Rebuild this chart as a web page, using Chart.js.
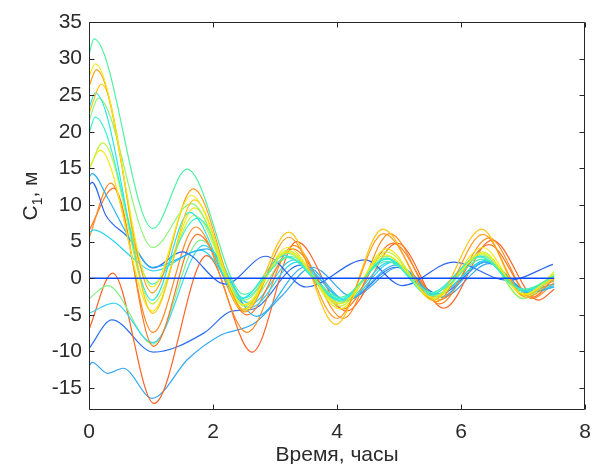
<!DOCTYPE html>
<html>
<head>
<meta charset="utf-8">
<script src="https://cdn.jsdelivr.net/npm/chart.js@4"></script>
<style>
  html, body { margin: 0; padding: 0; background: #fff; }
</style>
</head>
<body>
<canvas id="c" width="601" height="464"></canvas>
<script>
// Tick labels
const xTicks = [0, 2, 4, 6, 8];
const yTicks = [-15, -10, -5, 0, 5, 10, 15, 20, 25, 30, 35];

// Each realisation: [time, hours ; C1, m]
const zeroLine = [[0, 0], [7.5, 0]];
const run01 = [[0,30.5],[0.08,32.7],[1.03,6.8],[1.58,14.9],[2.5,-2.2],[3.2,2.8],[4.05,-2.6],[4.8,2.3],[5.55,-2],[6.35,2.6],[7.0,-1.6],[7.5,0.3]];
const run02 = [[0,27.5],[0.1,29.3],[1.02,-1.2],[1.65,11.3],[2.5,-3.6],[3.2,3.6],[4.05,-3.5],[4.78,3.2],[5.55,-2.6],[6.35,3.4],[7.02,-2.2],[7.5,0.6]];
const run03 = [[0,26.2],[0.12,28.5],[1.02,-2],[1.68,12.2],[2.52,-4.6],[3.22,5.6],[4.0,-5.5],[4.75,6.1],[5.6,-3.2],[6.35,6],[7.05,-2.6],[7.5,-0.2]];
const run04 = [[0,22.5],[0.2,26.5],[1.03,-4.8],[1.7,10.7],[2.5,-4.2],[3.22,6.3],[3.98,-6.3],[4.74,6.7],[5.55,-3],[6.33,6.7],[7.0,-2.4],[7.5,0]];
const run05 = [[0,23.2],[0.1,25.3],[1.02,-3],[1.62,9],[2.45,-2.8],[3.15,3.1],[4.05,-3],[4.8,2.6],[5.5,-2.3],[6.3,3],[7.0,-1.8],[7.5,0.3]];
const run06 = [[0,21.5],[0.15,24.6],[1.03,4.2],[1.65,10.2],[2.5,-3],[3.2,3.4],[4.05,-3.2],[4.8,3],[5.55,-2.4],[6.35,3.2],[7.0,-2.8],[7.5,0.6]];
const run07 = [[0,19.8],[0.1,22],[1.02,-0.8],[1.75,8.2],[2.5,-2.7],[3.2,2.9],[4.05,-2.8],[4.8,2.7],[5.5,-2],[6.3,2.9],[7.0,-1.5],[7.5,-0.4]];
const run08 = [[0,14.8],[0.22,18.5],[1.02,-3.5],[1.7,8.6],[2.5,-3.8],[3.2,3.8],[4.05,-3.8],[4.8,3.6],[5.55,-2.8],[6.35,3.6],[7.0,-2.7],[7.5,0.9]];
const run09 = [[0,15],[0.18,17.5],[1.02,-4.5],[1.7,9.6],[2.5,-4.4],[3.2,4.2],[4.05,-4.2],[4.8,4],[5.55,-3],[6.35,4.2],[7.0,-2.2],[7.5,0.2]];
const run10 = [[0,13.8],[0.05,14.3],[0.3,11],[0.67,5.2],[1.02,1.5],[1.9,4],[2.7,-5.2],[3.5,1.6],[4.15,-3],[4.95,1.8],[5.65,-2.6],[6.4,2.2],[7.1,-2],[7.5,-1.2]];
const run11 = [[0,12.7],[0.05,13.1],[0.27,8.6],[0.63,5.6],[1.03,1.4],[1.5,3.6],[2.2,-0.8],[2.85,3],[3.5,-1.2],[4.45,2.5],[5.05,-1],[5.88,2.2],[6.75,-0.3],[7.48,1.9]];
const run12 = [[0,6.2],[0.08,6.6],[0.35,5.4],[0.7,2.8],[1.03,1],[1.8,3.8],[2.6,-4],[3.35,2.2],[4.15,-3],[4.9,2.2],[5.6,-2.2],[6.4,2.4],[7.1,-2],[7.5,-1]];
const run13 = [[0,5.5],[0.35,13],[1.03,-7.4],[1.72,7],[2.55,-7.4],[3.3,4.5],[4.1,-5.5],[4.85,6.1],[5.65,-3.5],[6.45,5.5],[7.15,-2.8],[7.5,-0.6]];
const run14 = [[0,6.5],[0.4,12.3],[1.04,-9.3],[1.75,6],[2.55,-5],[3.28,4],[4.1,-4.2],[4.9,4.8],[5.65,-3],[6.45,4.6],[7.15,-2.6],[7.5,0]];
const run15 = [[0,-4.8],[0.4,-3.4],[1.03,-8.8],[1.85,4.5],[2.6,-3.5],[3.3,2.5],[4.1,-3.2],[4.85,2.2],[5.6,-2.2],[6.4,2.4],[7.05,-1.8],[7.5,-0.8]];
const run16 = [[0,-2.8],[0.3,-1],[1.03,-9],[1.8,5.2],[2.55,-3.3],[3.25,3],[4.05,-3.4],[4.8,2.8],[5.55,-2.5],[6.35,3],[7.0,-2],[7.5,0.5]];
const run17 = [[0,-7],[0.38,0.7],[1.05,-17.1],[1.9,3.1],[2.63,-10.1],[3.35,5],[4.15,-4.5],[4.97,4.8],[5.72,-4.1],[6.5,5.2],[7.25,-3],[7.5,-1.5]];
const run18 = [[0,-9.6],[0.37,-5.7],[1.04,-10.1],[1.85,-7.5],[2.3,-4.5],[2.65,-4.2],[3.4,1.8],[4.15,-3],[4.95,1.5],[5.65,-2.2],[6.4,2.2],[7.05,-1.6],[7.5,-0.8]];
const run19 = [[0,-12],[0.05,-11.5],[0.3,-13],[0.55,-12.3],[1.02,-16.4],[1.6,-11],[2.12,-7.8],[2.66,-6.2],[3.1,-2.5],[3.6,1.5],[4.25,-2.5],[5.0,1.5],[5.7,-2.6],[6.45,2],[7.1,-1.8],[7.5,-1.2]];

// Series and their jet-style colours; the first one is drawn on top
const series = [
  { pts: zeroLine, color: '#0a48ff', width: 1.6 },
  { pts: run01, color: '#4ff2a2', width: 1.2 },
  { pts: run02, color: '#eeee10', width: 1.2 },
  { pts: run03, color: '#ff9c1c', width: 1.2 },
  { pts: run04, color: '#ffc610', width: 1.2 },
  { pts: run05, color: '#22e8e6', width: 1.2 },
  { pts: run06, color: '#8ef47a', width: 1.2 },
  { pts: run07, color: '#3cf0d4', width: 1.2 },
  { pts: run08, color: '#c4f43c', width: 1.2 },
  { pts: run09, color: '#f4e814', width: 1.2 },
  { pts: run10, color: '#2cb2f6', width: 1.2 },
  { pts: run11, color: '#2a66f2', width: 1.2 },
  { pts: run12, color: '#28d6f2', width: 1.2 },
  { pts: run13, color: '#ff8a20', width: 1.2 },
  { pts: run14, color: '#ff7628', width: 1.2 },
  { pts: run15, color: '#3cd4f2', width: 1.2 },
  { pts: run16, color: '#80f088', width: 1.2 },
  { pts: run17, color: '#ff6226', width: 1.2 },
  { pts: run18, color: '#2c72f4', width: 1.2 },
  { pts: run19, color: '#34a6f4', width: 1.2 }
];

const FONT = "'Liberation Sans', Arial, sans-serif";
const TEXT = '#2b2b2b';

const datasets = series.map(s => ({
  data: s.pts.map(p => ({ x: p[0], y: p[1] })),
  borderColor: s.color,
  borderWidth: s.width,
  pointRadius: 0,
  fill: false,
  cubicInterpolationMode: 'monotone'
}));

// Boxed frame with inward ticks on all four sides, plus axis titles
const framePlugin = {
  id: 'frame',
  afterDatasetsDraw(chart) {
    const { ctx, chartArea: a, scales } = chart;
    const L = Math.round(a.left) + 0.5, R = Math.round(a.right) - 0.5;
    const T = Math.round(a.top) + 0.5, B = Math.round(a.bottom) - 0.5;
    ctx.save();
    ctx.strokeStyle = '#262626';
    ctx.lineWidth = 1;
    ctx.beginPath();
    ctx.rect(L, T, R - L, B - T);
    const len = 5;
    xTicks.forEach(v => {
      const px = Math.round(scales.x.getPixelForValue(v)) + 0.5;
      ctx.moveTo(px, B); ctx.lineTo(px, B - len);
      ctx.moveTo(px, T); ctx.lineTo(px, T + len);
    });
    yTicks.forEach(v => {
      const py = Math.round(scales.y.getPixelForValue(v)) + 0.5;
      ctx.moveTo(L, py); ctx.lineTo(L + len, py);
      ctx.moveTo(R, py); ctx.lineTo(R - len, py);
    });
    ctx.stroke();
    ctx.restore();
  },
  afterDraw(chart) {
    const { ctx, chartArea: a } = chart;
    ctx.save();
    ctx.fillStyle = TEXT;
    // x axis title
    ctx.font = '21px ' + FONT;
    ctx.textAlign = 'center';
    ctx.textBaseline = 'alphabetic';
    ctx.fillText('Время, часы', (a.left + a.right) / 2, 461);
    // y axis title with subscript
    ctx.translate(37, 196);
    ctx.rotate(-Math.PI / 2);
    ctx.textAlign = 'left';
    const big = '21px ' + FONT, small = '14px ' + FONT;
    ctx.font = big; const w1 = ctx.measureText('C').width;
    ctx.font = small; const w2 = ctx.measureText('1').width;
    ctx.font = big; const w3 = ctx.measureText(', м').width;
    let x0 = -(w1 + w2 + w3) / 2;
    ctx.font = big; ctx.fillText('C', x0, 0);
    ctx.font = small; ctx.fillText('1', x0 + w1, 5);
    ctx.font = big; ctx.fillText(', м', x0 + w1 + w2, 0);
    ctx.restore();
  }
};

new Chart(document.getElementById('c'), {
  type: 'line',
  data: { datasets },
  options: {
    responsive: false,
    animation: false,
    layout: { padding: { top: 22, right: 7, left: 0, bottom: 0 } },
    plugins: { legend: { display: false }, tooltip: { enabled: false } },
    scales: {
      x: {
        type: 'linear', min: 0, max: 8,
        grid: { display: false, drawTicks: false },
        border: { display: false },
        ticks: { font: { family: FONT, size: 21 }, color: TEXT, padding: 10, maxRotation: 0, autoSkip: false },
        afterBuildTicks: s => { s.ticks = xTicks.map(v => ({ value: v })); },
        afterFit: s => { s.height = 54; }
      },
      y: {
        type: 'linear', min: -18, max: 35,
        grid: { display: false, drawTicks: false },
        border: { display: false },
        ticks: { font: { family: FONT, size: 21 }, color: TEXT, padding: 7, autoSkip: false },
        afterBuildTicks: s => { s.ticks = yTicks.map(v => ({ value: v })); },
        afterFit: s => { s.width = 89; }
      }
    }
  },
  plugins: [framePlugin]
});
</script>
</body>
</html>
